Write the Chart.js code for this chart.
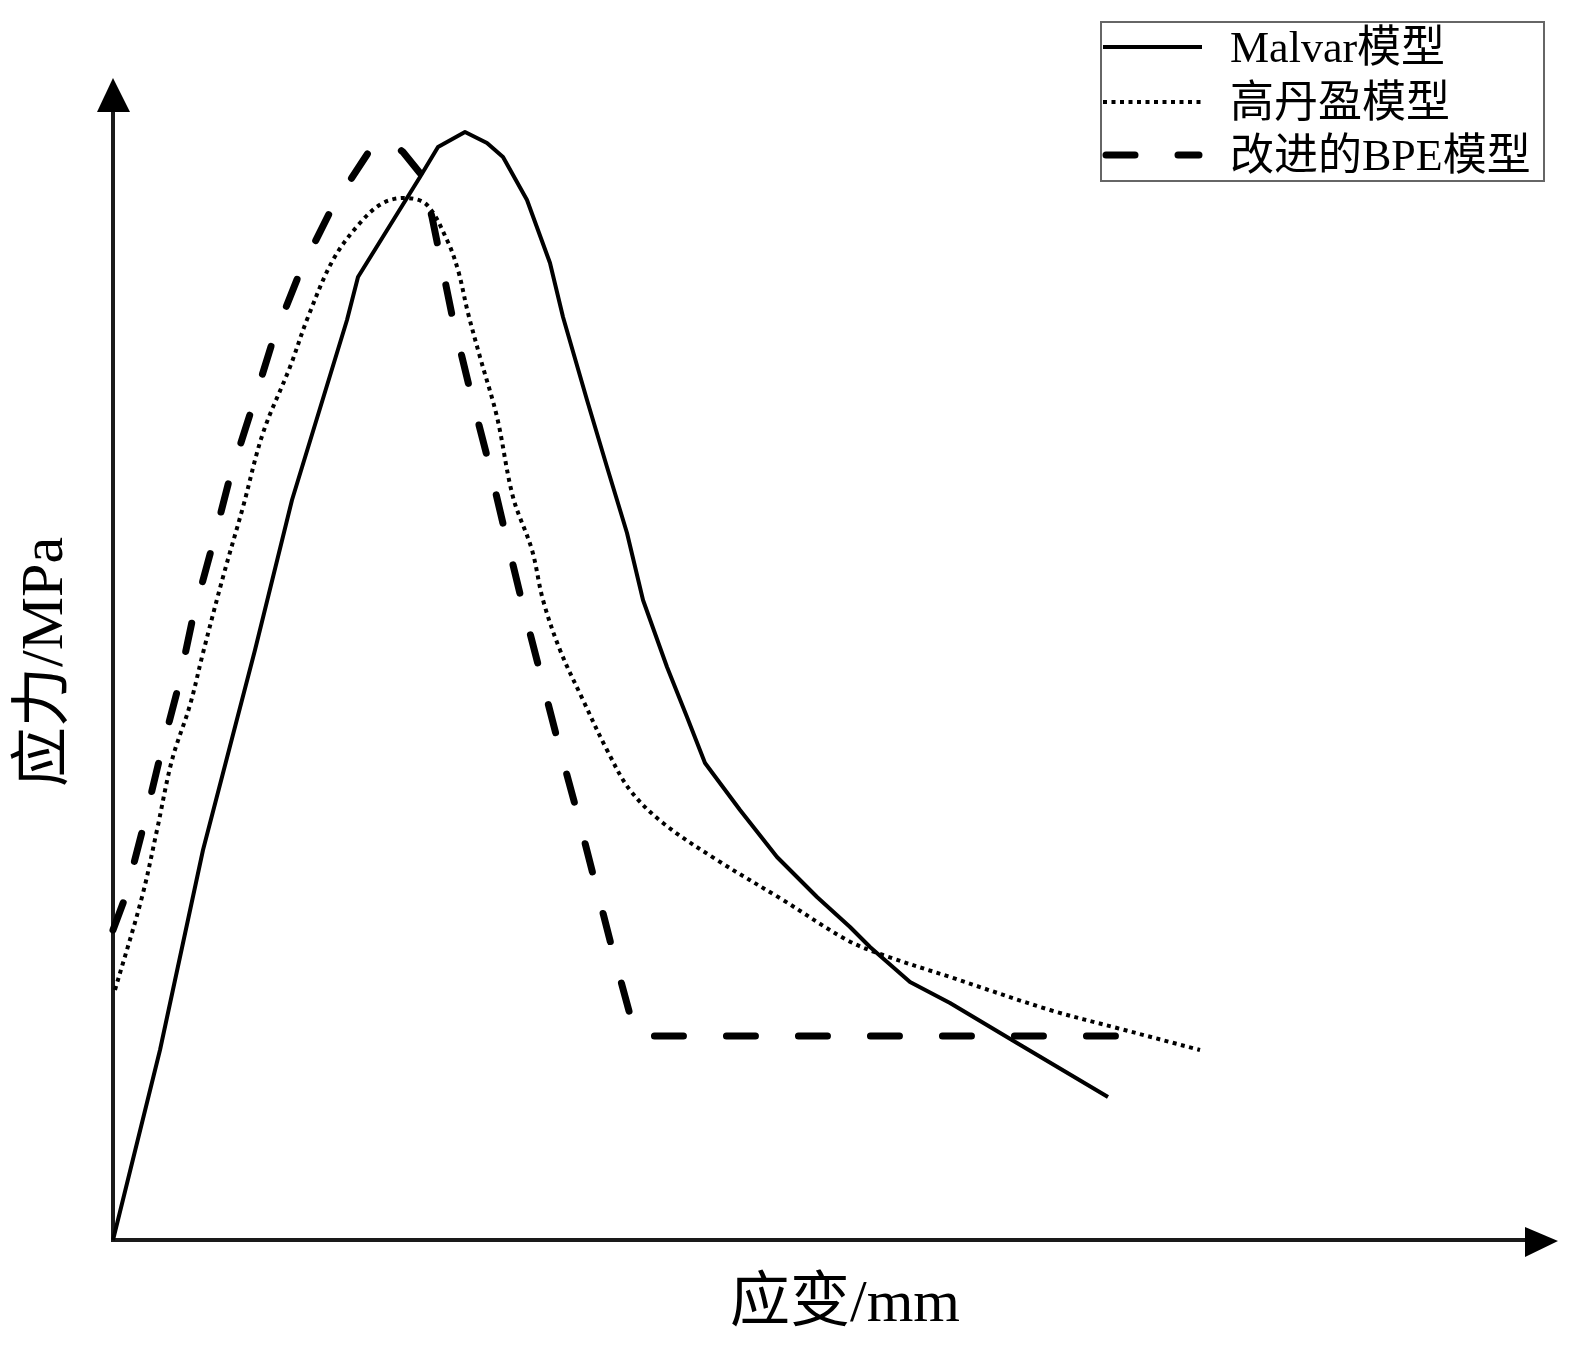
<!DOCTYPE html>
<html>
<head>
<meta charset="utf-8">
<script src="https://cdn.jsdelivr.net/npm/chart.js@4.4.1/dist/chart.umd.min.js"></script>
<style>
html,body{margin:0;padding:0;background:#fff;}
#wrap{width:1574px;height:1355px;position:relative;}
</style>
</head>
<body>
<div id="wrap"><canvas id="c" width="1574" height="1355"></canvas></div>
<script>
// ---- data (strain, stress in arbitrary units) ----
const seriesNames = ['Malvar模型', '高丹盈模型', '改进的BPE模型'];
const xAxisTitle = '应变/mm';
const yAxisTitle = '应力/MPa';

const malvarX = [0, 4.7, 9.0, 14.2, 17.9, 23.4, 24.5, 30.7, 32.5, 35.2, 37.4, 39.0, 41.4, 43.7, 45.0, 47.4, 49.4, 51.4, 53.0, 55.4, 57.4, 59.2, 62.7, 66.4, 70.4, 73.7, 75.7, 79.7, 83.7, 90.4, 99.5];
const malvarY = [0, 19.0, 39.0, 59.0, 74.0, 92.0, 96.3, 106.3, 109.3, 110.8, 109.7, 108.3, 104.0, 97.7, 92.3, 84.0, 77.3, 70.7, 64.0, 57.3, 52.3, 47.7, 43.0, 38.3, 34.3, 31.3, 29.3, 25.8, 23.7, 19.7, 14.3];

const gaoX = [0.2, 2.9, 4.4, 5.9, 7.7, 9.0, 11.0, 13.0, 15.0, 17.7, 19.5, 22.0, 24.7, 27.0, 29.4, 31.4, 33.4, 34.5, 35.5, 36.7, 38.4, 40.0, 41.9, 43.0, 44.7, 47.0, 49.4, 51.7, 55.0, 60.4, 67.0, 73.4, 77.0, 83.7, 93.7, 100.4, 108.7];
const gaoY = [25.0, 34.3, 41.0, 48.0, 53.5, 58.7, 66.3, 73.3, 80.7, 87.3, 92.3, 98.0, 101.7, 103.7, 104.2, 103.5, 100.0, 97.0, 92.7, 88.3, 82.3, 74.3, 69.0, 64.0, 59.0, 54.0, 49.0, 45.0, 41.7, 38.0, 34.0, 30.0, 28.5, 26.3, 23.0, 21.2, 19.0];

const bpeX = [0, 1.2, 3.0, 4.7, 6.5, 8.0, 9.9, 11.7, 13.9, 16.0, 18.7, 21.9, 25.9, 27.5, 29.0, 30.7, 31.9, 34.0, 35.7, 37.5, 39.2, 40.9, 42.7, 44.5, 46.4, 48.2, 50.0, 51.9, 52.5, 100.4];
const bpeY = [31.0, 34.2, 41.2, 48.3, 55.2, 62.3, 69.3, 76.3, 83.2, 90.0, 96.8, 103.2, 109.3, 110.0, 108.8, 106.7, 102.3, 92.0, 85.0, 78.0, 70.8, 63.8, 56.8, 49.8, 42.8, 35.8, 28.8, 21.8, 20.4, 20.4];

const xMax = 144.5;
const yMax = 116.2;

const toPts = (xs, ys) => xs.map((x, i) => ({x: x, y: ys[i]}));

const serifFont = "'Liberation Serif', 'Times New Roman', 'Noto Sans CJK SC', serif";

const decorPlugin = {
  id: 'decor',
  beforeDatasetsDraw(chart) {
    const ctx = chart.ctx;
    const xs = chart.scales.x, ys = chart.scales.y;
    const ox = xs.getPixelForValue(0), oy = ys.getPixelForValue(0);
    const top = ys.getPixelForValue(yMax), right = xs.getPixelForValue(xMax);
    ctx.save();
    ctx.strokeStyle = '#1a1a1a';
    ctx.fillStyle = '#000';
    ctx.lineWidth = 4;
    ctx.beginPath();
    ctx.moveTo(ox, oy + 2);
    ctx.lineTo(ox, top + 20);
    ctx.stroke();
    ctx.beginPath();
    ctx.moveTo(ox - 2, oy);
    ctx.lineTo(right - 20, oy);
    ctx.stroke();
    // arrow heads
    ctx.beginPath();
    ctx.moveTo(ox, top);
    ctx.lineTo(ox - 16, top + 34);
    ctx.lineTo(ox + 17, top + 34);
    ctx.closePath();
    ctx.fill();
    ctx.beginPath();
    ctx.moveTo(right, oy + 1);
    ctx.lineTo(right - 33, oy - 13);
    ctx.lineTo(right - 33, oy + 17);
    ctx.closePath();
    ctx.fill();
    ctx.restore();
  },
  afterDraw(chart) {
    const ctx = chart.ctx;
    ctx.save();
    ctx.fillStyle = '#000';
    // axis titles
    ctx.font = '60px ' + serifFont;
    ctx.textAlign = 'center';
    ctx.textBaseline = 'middle';
    ctx.fillText(xAxisTitle, 845, 1305);
    ctx.save();
    ctx.translate(46, 662);
    ctx.rotate(-Math.PI / 2);
    ctx.fillText(yAxisTitle, 0, 0);
    ctx.restore();
    // legend
    ctx.strokeStyle = '#666';
    ctx.lineWidth = 2;
    ctx.setLineDash([]);
    ctx.strokeRect(1101, 22, 443, 159);
    const rows = [47, 102, 155];
    ctx.font = '44px ' + serifFont;
    ctx.textAlign = 'left';
    ctx.textBaseline = 'middle';
    chart.data.datasets.forEach((ds, i) => {
      const y = rows[i];
      ctx.save();
      ctx.strokeStyle = ds.borderColor;
      ctx.lineWidth = ds.borderWidth;
      ctx.lineCap = ds.borderCapStyle || 'butt';
      ctx.setLineDash(ds.borderDash || []);
      ctx.beginPath();
      ctx.moveTo(ds.borderCapStyle === 'round' ? 1106 : 1103, y);
      ctx.lineTo(ds.borderCapStyle === 'round' ? 1199 : 1202, y);
      ctx.stroke();
      ctx.restore();
      ctx.fillText(ds.label, 1230, y + 3);
    });
    ctx.restore();
  }
};

new Chart(document.getElementById('c'), {
  type: 'line',
  data: {
    datasets: [
      {
        label: seriesNames[0],
        data: toPts(malvarX, malvarY),
        borderColor: '#000',
        borderWidth: 4,
        tension: 0,
        pointRadius: 0,
        fill: false,
        clip: false,
        borderJoinStyle: 'round'
      },
      {
        label: seriesNames[1],
        data: toPts(gaoX, gaoY),
        borderColor: '#000',
        borderWidth: 4,
        borderDash: [4, 4.5],
        tension: 0.35,
        pointRadius: 0,
        fill: false,
        clip: false
      },
      {
        label: seriesNames[2],
        data: toPts(bpeX, bpeY),
        borderColor: '#000',
        borderWidth: 7,
        borderDash: [29, 43],
        borderCapStyle: 'round',
        tension: 0,
        pointRadius: 0,
        fill: false,
        clip: false
      }
    ]
  },
  options: {
    responsive: false,
    animation: false,
    devicePixelRatio: 1,
    layout: {padding: {left: 113, top: 78, right: 16, bottom: 115}},
    plugins: {legend: {display: false}, tooltip: {enabled: false}, title: {display: false}},
    scales: {
      x: {type: 'linear', min: 0, max: xMax, display: false},
      y: {type: 'linear', min: 0, max: yMax, display: false}
    }
  },
  plugins: [decorPlugin]
});
</script>
</body>
</html>
